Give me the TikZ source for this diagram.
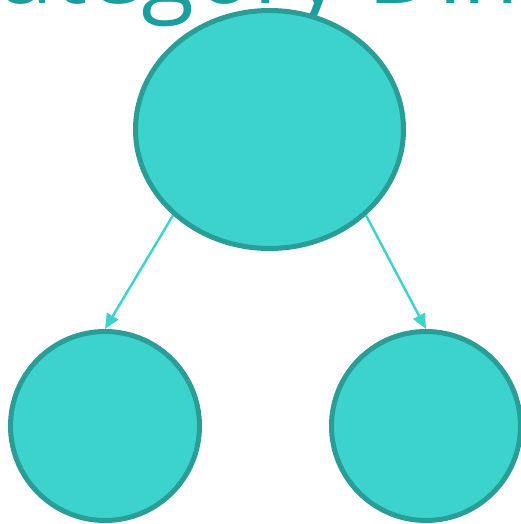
\documentclass[tikz,border=0pt]{standalone}
\usepackage{fontspec}
\setmainfont{Open Sans}
\usetikzlibrary{arrows.meta,positioning,shapes.geometric}
\definecolor{tealfill}{HTML}{3CD3CC}
\definecolor{tealline}{HTML}{2A9D96}
\definecolor{tealtext}{HTML}{1A9E9E}

\begin{document}
\begin{tikzpicture}[
                x=1pt, y=-1pt,
                title/.style={font=\fontsize{97}{100}\selectfont, text=tealtext, inner sep=0pt, anchor=base west},
                topnode/.style={ellipse, draw=tealline, fill=tealfill, line width=5pt, minimum width=268pt, minimum height=238pt, inner sep=0pt},
                leaf/.style={circle, draw=tealline, fill=tealfill, line width=5pt, minimum size=189pt, inner sep=0pt},
                arr/.style={-{Triangle[length=15pt,width=13pt]}, line width=2.4pt, draw=tealfill},
            ]
            \clip (0,0) rectangle (521,524);
            \node[title] (head) at (-62,4) {Category Dimension};
            \node[topnode] (root) at (269.5,129.5) {};
            \node[leaf] (left) at (105,426) {};
            \node[leaf] (right) at (426,426) {};

            \draw[arr] (root.south west) -- (left.north);
            \draw[arr] (root.south east) -- (right.north);
        \end{tikzpicture}
\end{document}
